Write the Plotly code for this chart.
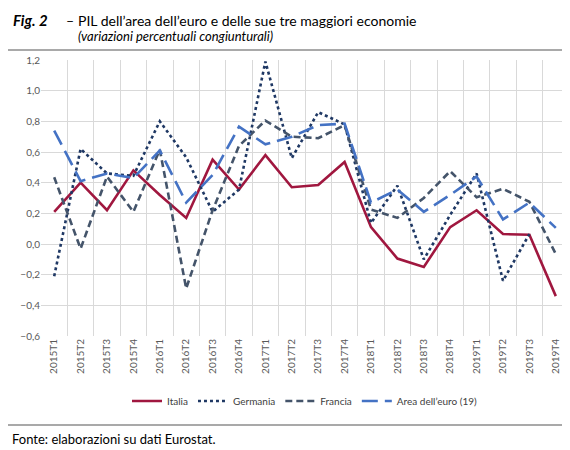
import plotly.graph_objects as go

categories = ["2015T1", "2015T2", "2015T3", "2015T4",
              "2016T1", "2016T2", "2016T3", "2016T4",
              "2017T1", "2017T2", "2017T3", "2017T4",
              "2018T1", "2018T2", "2018T3", "2018T4",
              "2019T1", "2019T2", "2019T3", "2019T4"]

italia = [0.21, 0.40, 0.22, 0.48, 0.32, 0.17, 0.55, 0.355, 0.58, 0.37, 0.385, 0.535,
          0.11, -0.095, -0.15, 0.11, 0.22, 0.065, 0.06, -0.34]
germania = [-0.21, 0.62, 0.46, 0.445, 0.80, 0.565, 0.21, 0.355, 1.19, 0.56, 0.86, 0.78,
            0.137, 0.38, -0.10, 0.19, 0.46, -0.24, 0.065, None]
francia = [0.435, -0.03, 0.44, 0.21, 0.615, -0.29, 0.22, 0.64, 0.805, 0.70, 0.69, 0.775,
           0.225, 0.17, 0.30, 0.475, 0.305, 0.36, 0.275, -0.065]
euro = [0.74, 0.41, 0.46, 0.43, 0.61, 0.27, 0.45, 0.765, 0.65, 0.70, 0.775, 0.785,
        0.27, 0.355, 0.21, 0.32, 0.44, 0.16, 0.27, 0.105]

series_names = ["Italia", "Germania", "Francia", "Area dell\u2019euro (19)"]

FONT = "Lato"

fig = go.Figure()
fig.add_trace(go.Scatter(x=categories, y=italia, name=series_names[0], mode="lines",
                         line=dict(color="#A0173F", width=2.6)))
fig.add_trace(go.Scatter(x=categories, y=germania, name=series_names[1], mode="lines",
                         line=dict(color="#1F3864", width=2.6, dash="dot")))
fig.add_trace(go.Scatter(x=categories, y=francia, name=series_names[2], mode="lines",
                         line=dict(color="#44546A", width=2.6, dash="7px,4px")))
fig.add_trace(go.Scatter(x=categories, y=euro, name=series_names[3], mode="lines",
                         line=dict(color="#4472C4", width=2.6, dash="16px,7px")))

L, R, T, B = 33, 9, 52, 122
W, H = 570, 450
pw, ph = W - L - R, H - T - B

def px(x):
    return (x - L) / pw

def py(y):
    return (H - B - y) / ph

annotations = [
    dict(text="<b><i>Fig. 2</i></b>", x=px(3), y=py(12), xanchor="left", yanchor="middle",
         font=dict(size=15, color="#000000", family=FONT)),
    dict(text="\u2013", x=px(56), y=py(12), xanchor="left", yanchor="middle",
         font=dict(size=14, color="#000000", family=FONT)),
    dict(text="PIL dell\u2019area dell\u2019euro e delle sue tre maggiori economie", x=px(68), y=py(12),
         xanchor="left", yanchor="middle", font=dict(size=14, color="#000000", family=FONT)),
    dict(text="<i>(variazioni percentuali congiunturali)</i>", x=px(68), y=py(28),
         xanchor="left", yanchor="middle", font=dict(size=13, color="#000000", family=FONT)),
    dict(text="Fonte: elaborazioni su dati Eurostat.", x=px(2), y=py(431),
         xanchor="left", yanchor="middle", font=dict(size=13, color="#000000", family=FONT)),
]
for a in annotations:
    a.update(xref="paper", yref="paper", showarrow=False)

shapes = [
    dict(type="line", xref="paper", yref="paper", x0=px(0), x1=px(566), y0=py(42), y1=py(42),
         line=dict(color="#8c8c8c", width=1.5)),
    dict(type="line", xref="paper", yref="paper", x0=px(0), x1=px(566), y0=py(417), y1=py(417),
         line=dict(color="#8c8c8c", width=1.5)),
]

fig.update_layout(
    width=W, height=H,
    margin=dict(l=L, r=R, t=T, b=B),
    paper_bgcolor="white", plot_bgcolor="white",
    separators=",.",
    font=dict(family=FONT, size=10, color="#595959"),
    showlegend=True,
    legend=dict(orientation="h", x=0.5, xanchor="center", y=py(393), yanchor="middle",
                font=dict(size=10, color="#404040", family=FONT), itemwidth=30,
                tracegroupgap=0),
    annotations=annotations,
    shapes=shapes,
)
fig.update_xaxes(type="category", range=[-0.5, 19.5], tickson="boundaries", showgrid=True,
                 gridcolor="#d9d9d9", gridwidth=1, tickangle=-90, ticks="",
                 tickfont=dict(size=10, color="#595959"), showline=False, zeroline=False)
fig.update_yaxes(range=[-0.6, 1.2], dtick=0.2, tickformat=".1f", showgrid=True,
                 gridcolor="#d9d9d9", gridwidth=1, zeroline=False, showline=False,
                 ticks="", tickfont=dict(size=10, color="#595959"))

fig.write_html("out.html")
